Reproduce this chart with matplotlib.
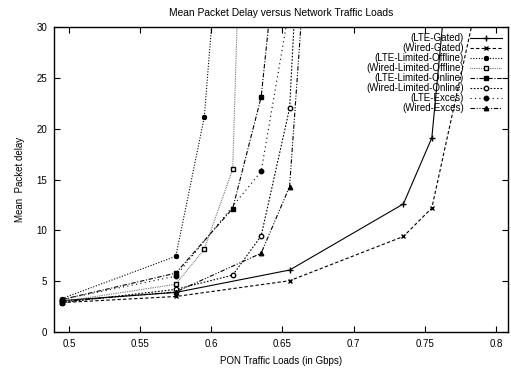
import matplotlib.pyplot as plt

plt.rcParams['font.family'] = ['Liberation Sans', 'DejaVu Sans']
plt.rcParams['font.size'] = 7

# data
labels = ["(LTE-Gated)", "(Wired-Gated)", "(LTE-Limited-Offline)", "(Wired-Limited-Offline)",
          "(LTE-Limited-Online)", "(Wired-Limited-Online)", "(LTE-Exces)", "(Wired-Exces)"]

x_lte_gated = [0.495, 0.575, 0.655, 0.735, 0.755, 0.775]
y_lte_gated = [3.1, 3.9, 6.1, 12.6, 19.1, 48.6]

x_wired_gated = [0.495, 0.575, 0.655, 0.735, 0.755, 0.795]
y_wired_gated = [2.9, 3.5, 5.05, 9.4, 12.2, 37.8]

x_lte_off = [0.495, 0.575, 0.595, 0.615]
y_lte_off = [3.3, 7.45, 21.1, 56]

x_wired_off = [0.495, 0.575, 0.595, 0.615, 0.635]
y_wired_off = [3.0, 4.7, 8.15, 16.0, 109]

x_lte_on = [0.495, 0.575, 0.615, 0.635, 0.655]
y_lte_on = [3.2, 5.8, 12.15, 23.1, 50]

x_wired_on = [0.495, 0.575, 0.615, 0.635, 0.655, 0.675]
y_wired_on = [2.9, 4.2, 5.6, 9.45, 22.0, 75]

x_lte_ex = [0.495, 0.575, 0.635, 0.655]
y_lte_ex = [3.2, 5.5, 15.8, 32]

x_wired_ex = [0.495, 0.575, 0.635, 0.655, 0.675]
y_wired_ex = [3.0, 3.95, 7.75, 14.3, 54]

fig = plt.figure(figsize=(5.11, 3.69), dpi=100)
ax = fig.add_axes([0.106, 0.100, 0.888, 0.827])

lw = 0.8
ms = 3.2
ax.plot(x_lte_gated, y_lte_gated, color='k', lw=lw, ls='-', marker='+', ms=ms + 1, label=labels[0])
ax.plot(x_wired_gated, y_wired_gated, color='k', lw=lw, ls=(0, (3, 2)), marker='x', ms=ms, label=labels[1])
ax.plot(x_lte_off, y_lte_off, color='k', lw=lw, ls=(0, (1, 1.5)), marker=(8, 2, 0), ms=ms + 0.5, label=labels[2])
ax.plot(x_wired_off, y_wired_off, color='#444444', lw=lw, ls=(0, (0.6, 1)), marker='s', ms=ms,
        mfc='white', mec='k', label=labels[3])
ax.plot(x_lte_on, y_lte_on, color='k', lw=lw, ls=(0, (4, 1.5, 1, 1.5)), marker='s', ms=ms, label=labels[4])
ax.plot(x_wired_on, y_wired_on, color='k', lw=lw, ls=(0, (1.5, 1.5)), marker='o', ms=ms,
        mfc='white', label=labels[5])
ax.plot(x_lte_ex, y_lte_ex, color='k', lw=lw, ls=(0, (1, 3)), marker='o', ms=ms, label=labels[6])
ax.plot(x_wired_ex, y_wired_ex, color='k', lw=lw, ls=(0, (4, 1.5, 1, 1.5, 1, 1.5)), marker='^', ms=ms,
        label=labels[7])

ax.set_xlim(0.4895, 0.8085)
ax.set_ylim(0, 30)
ax.set_xticks([0.5, 0.55, 0.6, 0.65, 0.7, 0.75, 0.8])
ax.set_xticklabels(["0.5", "0.55", "0.6", "0.65", "0.7", "0.75", "0.8"])
ax.set_yticks([0, 5, 10, 15, 20, 25, 30])
ax.tick_params(direction='in', top=True, right=True, length=4, width=0.8, pad=5)
for s in ax.spines.values():
    s.set_linewidth(1.0)

ax.set_title("Mean Packet Delay versus Network Traffic Loads", pad=8, fontsize=7.4)
ax.set_xlabel("PON Traffic Loads (in Gbps)", labelpad=5)
ax.set_ylabel("Mean  Packet delay", labelpad=8)

ax.legend(loc='upper right', frameon=False, markerfirst=False, handlelength=3.3,
          labelspacing=0.0, borderaxespad=0.25, handletextpad=0.6, fontsize=7)

fig.savefig("out.png", dpi=100)
